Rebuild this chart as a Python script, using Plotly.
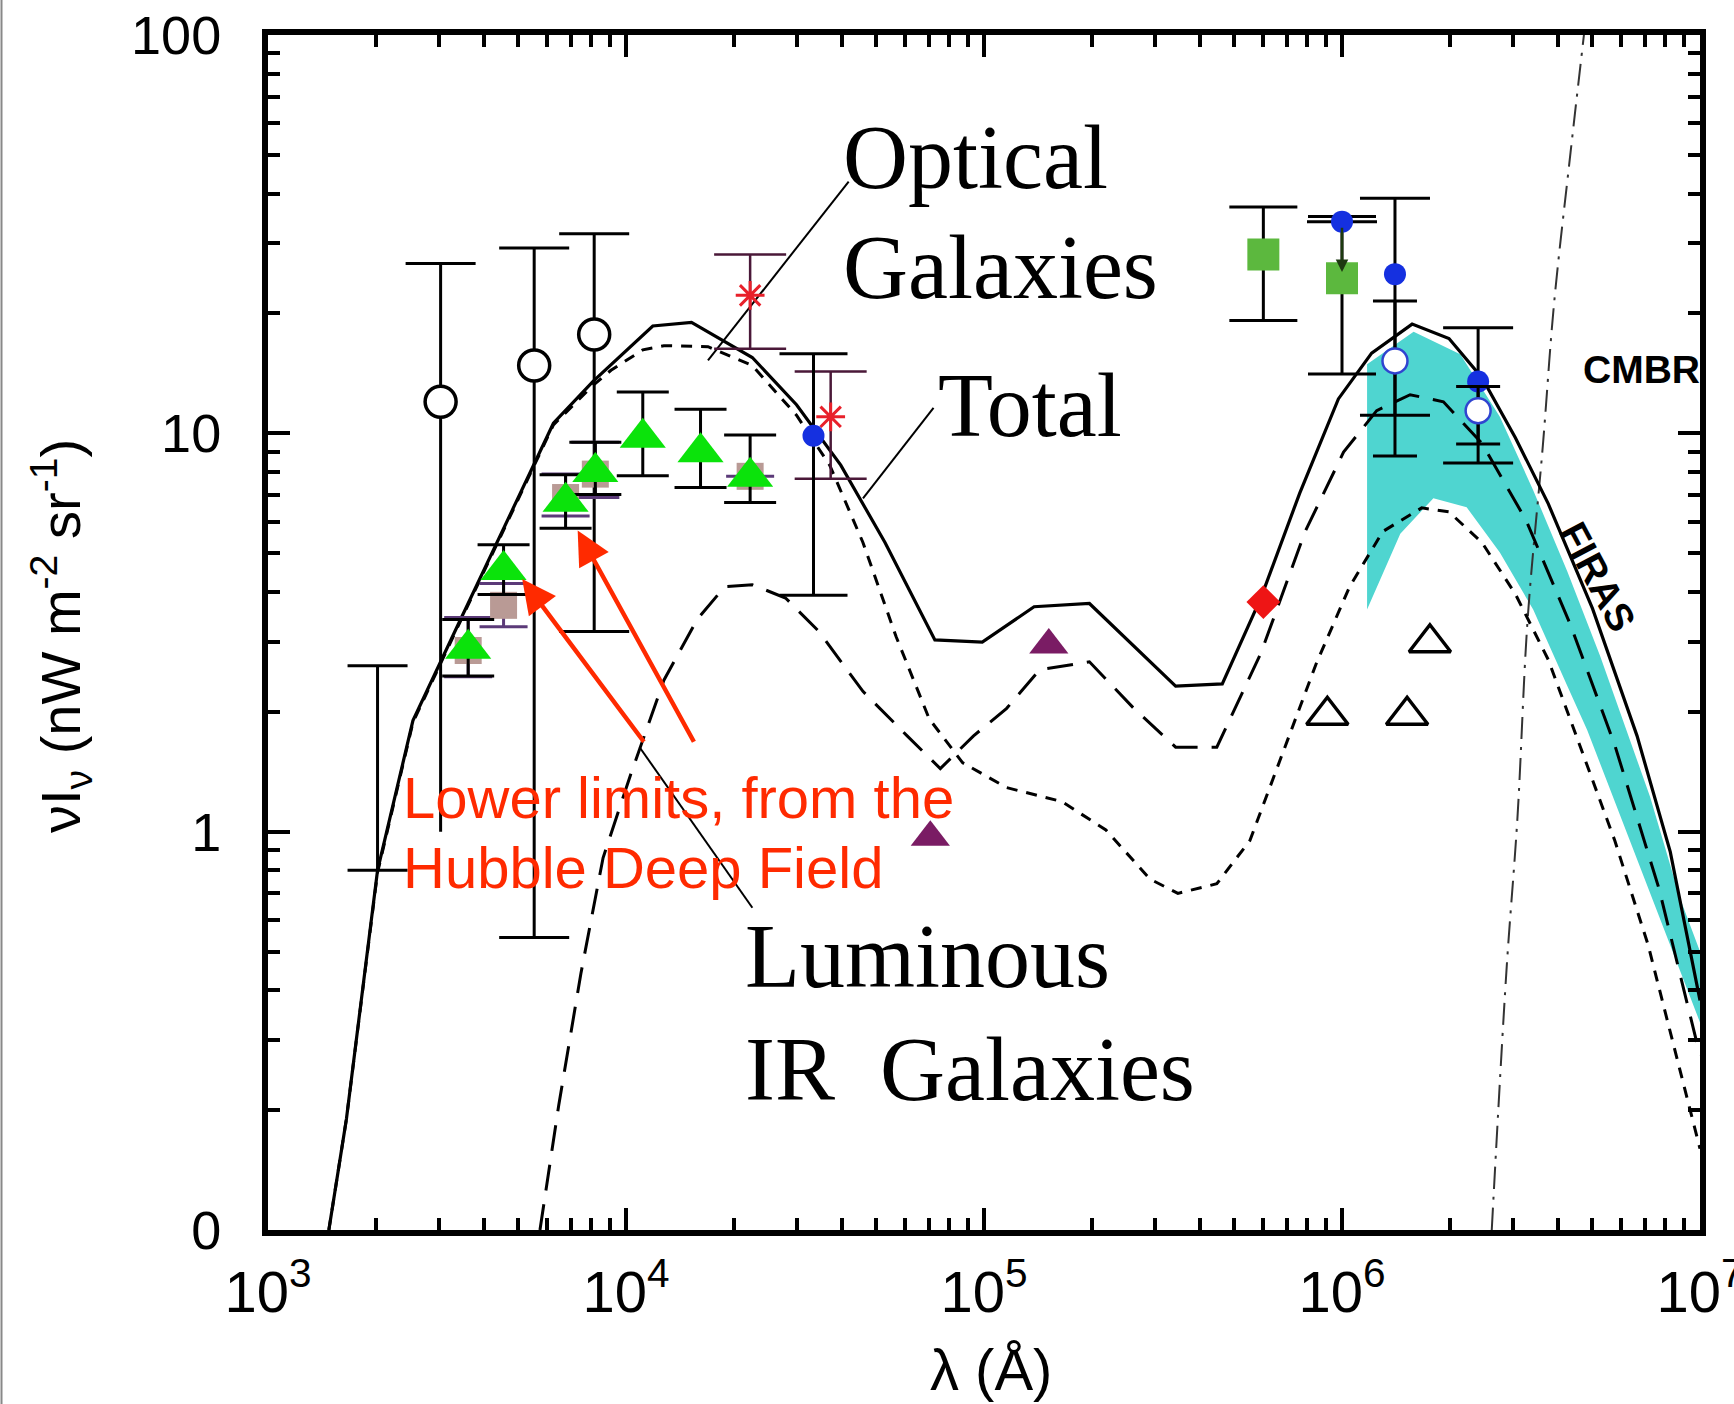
import plotly.graph_objects as go

# ---------------- model curves (lambda in Angstrom, nu I_nu in nW m^-2 sr^-1) ----------------
total_lam = [1479, 1656, 2023, 2540, 3444, 4330, 5510, 6270, 8090, 11880, 15240, 22530, 29940,
             39800, 52900, 72900, 98900, 138000, 197000, 343000, 463000, 594000, 762000, 977000,
             1.21e6, 1.57e6, 1.99e6, 2.46e6, 3.05e6, 3.77e6, 5.01e6, 6.67e6, 8.26e6, 1e7]
total_val = [0.1, 0.19, 0.80, 1.90, 3.40, 5.25, 8.26, 10.6, 13.5, 18.6, 19.0, 15.5, 11.8,
             8.32, 5.32, 3.03, 2.99, 3.67, 3.74, 2.32, 2.35, 3.87, 7.08, 12.2,
             15.9, 18.8, 17.3, 13.8, 9.75, 6.65, 3.63, 1.74, 0.89, 0.377]

optical_lam = [1479, 1656, 2023, 2540, 3444, 4330, 5510, 6270, 8090, 9080, 11140, 12760, 16950,
               22530, 29940, 37070, 45900, 56800, 70300, 87100, 115700, 165000, 219000, 291000,
               348000, 447000, 553000, 684000, 847000, 1.05e6, 1.3e6, 1.67e6, 1.99e6, 2.46e6,
               3.05e6, 3.77e6, 4.67e6, 5.78e6, 7.16e6, 1e7]
optical_val = [0.1, 0.19, 0.79, 1.88, 3.37, 5.2, 8.2, 10.5, 13.2, 14.4, 16.2, 16.6, 16.5,
               14.8, 11.1, 8.32, 5.32, 3.09, 1.92, 1.49, 1.29, 1.19, 1.01, 0.76,
               0.70, 0.74, 0.95, 1.58, 2.64, 4.12, 5.67, 6.5, 6.35, 5.32,
               3.95, 2.7, 1.6, 0.95, 0.52, 0.16]

lirg_lam = [5750, 6490, 7480, 8630, 10300, 12760, 15800, 18870, 22530, 27900, 34500, 45900,
            61000, 75500, 93500, 115700, 143000, 197000, 262000, 343000, 447000, 594000,
            789000, 1.01e6, 1.25e6, 1.55e6, 1.92e6, 2.46e6, 3.27e6, 4.35e6, 5.78e6, 7.68e6, 1e7]
lirg_val = [0.1, 0.206, 0.44, 0.86, 1.39, 2.4, 3.41, 4.12, 4.17, 3.86, 3.19, 2.25,
            1.74, 1.44, 1.74, 2.04, 2.55, 2.67, 2.04, 1.63, 1.63, 2.81,
            5.67, 8.97, 11.4, 12.5, 12.0, 9.44, 6.04, 3.3, 1.65, 0.72, 0.274]

cmbr_lam = [2.62e6, 2.88e6, 3.09e6, 3.30e6, 3.64e6, 3.91e6, 4.35e6, 4.74e6]
cmbr_val = [0.1, 0.448, 1.08, 3.41, 9.33, 21.1, 50.8, 100]

# FIRAS band (upper and lower edges)
firas_lam_up = [1.175e6, 1.585e6, 2.14e6, 2.76e6, 3.42e6, 4.26e6, 5.27e6, 7.26e6, 8.8e6, 1e7]
firas_up = [14.9, 18.0, 15.8, 11.0, 7.2, 4.5, 2.75, 1.22, 0.68, 0.50]
firas_lam_lo = [1.175e6, 1.455e6, 1.80e6, 2.23e6, 2.76e6, 3.42e6, 4.26e6, 4.84e6, 7.26e6, 1e7]
firas_lo = [3.61, 5.6, 6.87, 6.52, 5.02, 3.61, 2.32, 1.8, 0.70, 0.332]

# ---------------- measurements ----------------
ocirc_lam = [3035, 5540, 8150]
ocirc_val = [12.0, 14.8, 17.7]
ocirc_hi = [26.7, 29.2, 31.7]
ocirc_lo = [1.0, 0.542, 3.18]

bar_lam = [2023]
bar_mid = [1.45]
bar_hi = [2.61]
bar_lo = [0.80]

sq_lam = [3624, 4550, 6780, 8210, 22220]
sq_val = [2.85, 3.70, 6.9, 7.9, 7.8]
sq_hi = [3.45, 4.2, 7.9, 9.5, 7.8]
sq_lo = [2.45, 3.27, 6.2, 6.9, 7.8]

tri_lam = [3624, 4550, 6780, 8210, 11140, 16150, 22220]
tri_val = [2.88, 4.54, 6.73, 8.0, 9.75, 8.97, 7.78]
tri_hi = [3.41, 5.25, 7.87, 9.5, 12.7, 11.5, 9.91]
tri_lo = [2.46, 3.94, 5.78, 7.02, 7.82, 7.31, 6.7]

ast_lam = [22220, 37300]
ast_val = [22.2, 11.0]
ast_hi = [28.1, 14.3]
ast_lo = [16.3, 7.69]

bdot_lam = [33400]
bdot_val = [9.86]
bdot_hi = [15.85]
bdot_lo = [3.92]

ptri_lam = [70800, 151700]
ptri_val = [0.968, 2.94]

diam_lam = [603000]
diam_val = [3.77]

gsq_lam = [603000, 1.0e6]
gsq_val = [28.1, 24.5]
gsq_hi = [37.0, 35.0]
gsq_lo = [19.2, 14.1]

fir_lam = [1.0e6, 1.406e6, 2.40e6]
fir_val = [34.0, 25.1, 13.5]
fir_hi = [34.0, 38.9, 18.4]
fir_lo = [34.0, 11.1, 8.43]

ofir_lam = [1.406e6, 2.40e6]
ofir_val = [15.2, 11.4]
ofir_hi = [21.5, 13.1]
ofir_lo = [8.77, 9.4]

otri_lam = [910000, 1.52e6, 1.76e6]
otri_val = [1.96, 1.96, 2.98]

x_ticks = [1e3, 1e4, 1e5, 1e6, 1e7]
x_ticktext = ['10<sup>3</sup>', '10<sup>4</sup>', '10<sup>5</sup>', '10<sup>6</sup>', '10<sup>7</sup>']
y_ticks = [0.1, 1, 10, 100]
y_ticktext = ['0', '1', '10', '100']

# pointer lines (label leader lines), in data space
ptr_optical_lam = [10 ** 4.229, 10 ** 4.622]
ptr_optical_val = [10 ** 1.183, 10 ** 1.632]
ptr_total_lam = [10 ** 4.662, 10 ** 4.859]
ptr_total_val = [10 ** 0.837, 10 ** 1.064]
ptr_lirg_lam = [10 ** 4.038, 10 ** 4.353]
ptr_lirg_val = [10 ** 0.212, 10 ** -0.191]


def err(vals, hi, lo):
    return [h - v for h, v in zip(hi, vals)], [v - l for v, l in zip(vals, lo)]


fig = go.Figure()

# FIRAS band
fig.add_trace(go.Scatter(x=firas_lam_up + firas_lam_lo[::-1], y=firas_up + firas_lo[::-1],
                         fill='toself', fillcolor='#4fd5d0', line=dict(width=0), mode='lines',
                         hoverinfo='skip'))

# curves
fig.add_trace(go.Scatter(x=cmbr_lam, y=cmbr_val, mode='lines',
                         line=dict(color='#333333', width=2, dash='22px,8px,3px,8px', shape='spline')))
fig.add_trace(go.Scatter(x=optical_lam, y=optical_val, mode='lines',
                         line=dict(color='black', width=3, dash='11px,9px')))
fig.add_trace(go.Scatter(x=lirg_lam, y=lirg_val, mode='lines',
                         line=dict(color='black', width=3, dash='26px,14px')))
fig.add_trace(go.Scatter(x=total_lam, y=total_val, mode='lines',
                         line=dict(color='black', width=3.2)))

# pointer lines
for px_, py_ in [(ptr_optical_lam, ptr_optical_val), (ptr_total_lam, ptr_total_val),
                 (ptr_lirg_lam, ptr_lirg_val)]:
    fig.add_trace(go.Scatter(x=px_, y=py_, mode='lines', line=dict(color='black', width=2)))

# marker-less error bar
a, b = err(bar_mid, bar_hi, bar_lo)
fig.add_trace(go.Scatter(x=bar_lam, y=bar_mid, mode='markers', marker=dict(size=1, color='rgba(0,0,0,0)'),
                         error_y=dict(type='data', array=a, arrayminus=b, color='black', thickness=3, width=30)))

# open circles: first one has a capless lower bar
a, b = err(ocirc_val, ocirc_hi, ocirc_lo)
fig.add_trace(go.Scatter(x=[ocirc_lam[0], ocirc_lam[0]], y=[ocirc_lo[0], ocirc_hi[0]], mode='lines',
                         line=dict(color='black', width=3)))
fig.add_trace(go.Scatter(x=ocirc_lam[:1], y=ocirc_hi[:1], mode='markers',
                         marker=dict(size=1, color='rgba(0,0,0,0)'),
                         error_y=dict(type='data', symmetric=False, array=[1e-6], arrayminus=[1e-6],
                                      color='black', thickness=3, width=35)))
fig.add_trace(go.Scatter(x=ocirc_lam[1:], y=ocirc_val[1:], mode='markers',
                         marker=dict(size=1, color='rgba(0,0,0,0)'),
                         error_y=dict(type='data', array=a[1:], arrayminus=b[1:], color='black',
                                      thickness=3, width=35)))
fig.add_trace(go.Scatter(x=ocirc_lam, y=ocirc_val, mode='markers',
                         marker=dict(symbol='circle', size=31, color='white', line=dict(color='black', width=3.5))))

# brown squares with purple bars
a, b = err(sq_val, sq_hi, sq_lo)
fig.add_trace(go.Scatter(x=sq_lam, y=sq_val, mode='markers',
                         marker=dict(symbol='square', size=27, color='#b99a95'),
                         error_y=dict(type='data', array=a, arrayminus=b, color='#5b3a78', thickness=3, width=24)))

# green triangles
a, b = err(tri_val, tri_hi, tri_lo)
fig.add_trace(go.Scatter(x=tri_lam, y=tri_val, mode='markers',
                         marker=dict(symbol='triangle-up', size=40, color='#0be30b'),
                         error_y=dict(type='data', array=a, arrayminus=b, color='black', thickness=3, width=26)))

# asterisks
a, b = err(ast_val, ast_hi, ast_lo)
fig.add_trace(go.Scatter(x=ast_lam, y=ast_val, mode='markers',
                         marker=dict(symbol='asterisk-open', size=24, color='#e8202a', line=dict(color='#e8202a', width=3)),
                         error_y=dict(type='data', array=a, arrayminus=b, color='#4a1838', thickness=2.5, width=36)))

# blue dot (near-IR)
a, b = err(bdot_val, bdot_hi, bdot_lo)
fig.add_trace(go.Scatter(x=bdot_lam, y=bdot_val, mode='markers',
                         marker=dict(symbol='circle', size=22, color='#1530e0'),
                         error_y=dict(type='data', array=a, arrayminus=b, color='black', thickness=3, width=34)))

# purple triangles
fig.add_trace(go.Scatter(x=ptri_lam, y=ptri_val, mode='markers',
                         marker=dict(symbol='triangle-up', size=34, color='#7a1c64')))

# red diamond
fig.add_trace(go.Scatter(x=diam_lam, y=diam_val, mode='markers',
                         marker=dict(symbol='diamond', size=26, color='#ee1515')))

# green squares
a, b = err(gsq_val, gsq_hi, gsq_lo)
fig.add_trace(go.Scatter(x=gsq_lam, y=gsq_val, mode='markers',
                         marker=dict(symbol='square', size=32, color='#5cb83e'),
                         error_y=dict(type='data', array=a, arrayminus=b, color='black', thickness=3, width=34)))

# FIR blue dots
a, b = err(fir_val, fir_hi, fir_lo)
fig.add_trace(go.Scatter(x=fir_lam, y=fir_val, mode='markers',
                         marker=dict(symbol='circle', size=22, color='#1530e0'),
                         error_y=dict(type='data', array=a, arrayminus=b, color='black', thickness=3, width=35)))

# open blue circles
a, b = err(ofir_val, ofir_hi, ofir_lo)
fig.add_trace(go.Scatter(x=ofir_lam, y=ofir_val, mode='markers',
                         marker=dict(symbol='circle', size=25, color='white', line=dict(color='#3044d0', width=2.5)),
                         error_y=dict(type='data', array=a, arrayminus=b, color='black', thickness=3, width=22)))

# open triangles
fig.add_trace(go.Scatter(x=otri_lam, y=otri_val, mode='markers',
                         marker=dict(symbol='triangle-up', size=36, color='white', line=dict(color='black', width=3.5))))

x_minor = [m * 10 ** e for e in range(3, 7) for m in range(2, 10)]
y_minor = [m * 10 ** e for e in range(-1, 2) for m in range(2, 10)]

fig.update_xaxes(type='log', range=[3, 7], tickvals=x_ticks, ticktext=x_ticktext,
                 ticks='inside', ticklen=22, tickwidth=4, tickcolor='black',
                 showline=True, linewidth=6, linecolor='black', mirror='allticks',
                 showgrid=False, zeroline=False, tickfont=dict(size=58, color='black'),
                 ticklabelstandoff=6, ticklabeloverflow='allow', automargin=False,
                 minor=dict(tickvals=x_minor, ticks='inside', ticklen=12, tickwidth=4,
                            tickcolor='black', showgrid=False))
fig.update_yaxes(type='log', range=[-1, 2], tickvals=y_ticks, ticktext=y_ticktext,
                 ticks='inside', ticklen=22, tickwidth=4, tickcolor='black',
                 showline=True, linewidth=6, linecolor='black', mirror='allticks',
                 showgrid=False, zeroline=False, tickfont=dict(size=54, color='black'),
                 ticklabelstandoff=30, automargin=False,
                 minor=dict(tickvals=y_minor, ticks='inside', ticklen=12, tickwidth=4,
                            tickcolor='black', showgrid=False))

serif = dict(family='Liberation Serif, Times New Roman, serif', size=90, color='black')
red = dict(family='Liberation Sans, Arial, sans-serif', size=58, color='#ff2a00')
annots = [
    dict(text='Optical', x=4.600, y=1.693, font=serif),
    dict(text='Galaxies', x=4.600, y=1.416, font=serif),
    dict(text='Total', x=4.866, y=1.071, font=serif),
    dict(text='Luminous', x=4.328, y=-0.314, font=serif),
    dict(text='IR\u00a0 Galaxies', x=4.328, y=-0.597, font=serif),
    dict(text='Lower limits, from the', x=3.372, y=0.087, font=red),
    dict(text='Hubble Deep Field', x=3.372, y=-0.089, font=red),
    dict(text='<b>CMBR</b>', x=6.668, y=1.160,
         font=dict(family='Liberation Sans, Arial', size=39, color='black')),
]
for an in annots:
    fig.add_annotation(xref='x', yref='y', xanchor='left', yanchor='middle', showarrow=False, **an)

fig.add_annotation(xref='x', yref='y', x=6.713, y=0.640, text='<b>FIRAS</b>', showarrow=False,
                   textangle=62, xanchor='center', yanchor='middle',
                   font=dict(family='Liberation Sans, Arial', size=39, color='black'))

# red arrows
for hx, hy, tx, ty in [(3.865, 0.756, 4.192, 0.222), (3.710, 0.634, 4.053, 0.222)]:
    fig.add_annotation(xref='x', yref='y', axref='x', ayref='y', x=hx, y=hy, ax=tx, ay=ty,
                       text='', showarrow=True, arrowhead=2, arrowsize=1.5, arrowwidth=4.5,
                       arrowcolor='#ff2a00')

# small arrow into green square
fig.add_annotation(xref='x', yref='y', axref='x', ayref='y', x=6.0, y=1.405, ax=6.0, ay=1.52,
                   text='', showarrow=True, arrowhead=2, arrowsize=1.0, arrowwidth=2.5,
                   arrowcolor='#1d3a10')

# axis titles
fig.add_annotation(xref='paper', yref='paper', x=-0.1446, y=0.497, textangle=-90,
                   text='\u03bdI<sub>\u03bd</sub> (nW m<sup>-2</sup> sr<sup>-1</sup>)', showarrow=False,
                   xanchor='center', yanchor='middle',
                   font=dict(family='Liberation Sans, Arial', size=56, color='black'))
fig.add_annotation(xref='paper', yref='paper', x=0.505, y=-0.117,
                   text='\u03bb (\u00c5)', showarrow=False, xanchor='center', yanchor='middle',
                   font=dict(family='Liberation Sans, Arial', size=58, color='black'))

# thin grey frame line at left edge of the image
fig.add_shape(type='line', xref='paper', yref='paper', x0=(1.5 - 268) / 1432, x1=(1.5 - 268) / 1432,
              y0=(1230 - 1404) / 1195, y1=1230 / 1195, line=dict(color='#888888', width=2))

fig.update_layout(width=1734, height=1404, margin=dict(l=268, r=34, t=35, b=174, autoexpand=False),
                  paper_bgcolor='white', plot_bgcolor='white', showlegend=False,
                  font=dict(family='Liberation Sans, Arial', color='black'))

fig.write_html('out.html')
